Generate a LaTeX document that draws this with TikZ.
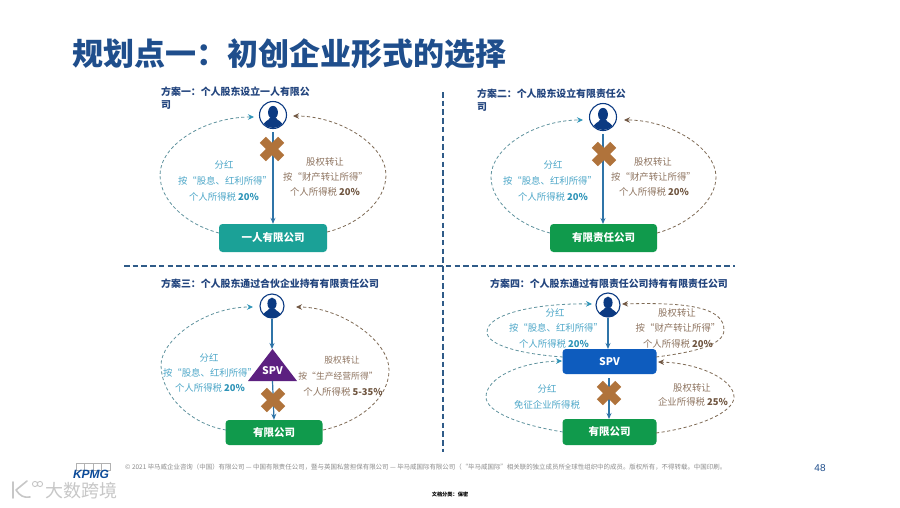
\documentclass[tikz,border=0pt]{standalone}
\usepackage{fontspec}
\setmainfont{Noto Sans CJK SC}
\newfontfamily\latinf{Liberation Sans}
\usetikzlibrary{arrows.meta,shapes.geometric}
\newcommand{\fcolon}{\symbol{"FF1A}}
\newcommand{\fcomma}{\symbol{"FF0C}}
\newcommand{\flp}{\symbol{"FF08}}
\newcommand{\frp}{\symbol{"FF09}}
\definecolor{titleblue}{HTML}{1F4E8C}
\definecolor{headblue}{HTML}{23457E}
\definecolor{navy}{HTML}{0B3A82}
\definecolor{stemblue}{HTML}{2F74A8}
\definecolor{leftc}{HTML}{4FA8C9}
\definecolor{leftb}{HTML}{2E94B8}
\definecolor{rightc}{HTML}{8F7561}
\definecolor{rightb}{HTML}{6F5540}
\definecolor{dashl}{HTML}{5F929E}
\definecolor{dashr}{HTML}{7F6B55}
\definecolor{crossc}{HTML}{B0733B}
\definecolor{tealbox}{HTML}{1BA197}
\definecolor{greenbox}{HTML}{109A4C}
\definecolor{bluebox}{HTML}{0E5CBE}
\definecolor{purpletri}{HTML}{5C2080}
\definecolor{divc}{HTML}{2F5B88}
\tikzset{
  x=1pt,y=-1pt,
  headtxt/.style={font=\bfseries\fontsize{9.9}{13}\selectfont,text=headblue,anchor=west,inner sep=0pt,align=left},
  ltxt/.style={font=\fontsize{9.4}{12}\selectfont,text=leftc,inner sep=0pt},
  rtxt/.style={font=\fontsize{9.4}{12}\selectfont,text=rightc,inner sep=0pt},
  rtxtsmall/.style={font=\fontsize{8.8}{12}\selectfont,text=rightc,inner sep=0pt},
  entity/.style={draw=none,rounded corners=3.5pt,minimum height=#1,inner sep=0pt,text=white,font=\bfseries\fontsize{10.5}{12}\selectfont},
  personc/.style={circle,draw=navy,line width=1.1pt,fill=white,inner sep=0pt,minimum size=#1},
  stem/.style={draw=stemblue,line width=1.2pt,-{Stealth[length=6pt,width=5pt]}},
  dashL/.style={draw=dashl,line width=.8pt,dash pattern=on 3.2pt off 2.4pt,-{Stealth[length=6pt,width=5.5pt,color=leftb]}},
  dashR/.style={draw=dashr,line width=.8pt,dash pattern=on 3.2pt off 2.4pt,-{Stealth[length=6pt,width=5.5pt,color=rightb]}},
  crossbar/.style={fill=crossc,draw=none,minimum width=26pt,minimum height=8.5pt,inner sep=0pt},
  divider/.style={draw=divc,line width=1.1pt,dash pattern=on 5.5pt off 3.2pt},
}
\newcommand{\bustat}[3]{% x,y,radius
  \begin{scope}
    \clip (#1,#2) circle[radius=#3];
    \fill[navy] (#1,#2-.2*#3) ellipse[x radius=.38*#3,y radius=.5*#3];
    \fill[navy] (#1-.8*#3,#2+#3) .. controls (#1-.8*#3,#2+.45*#3) and (#1-.3*#3,#2+.45*#3) .. (#1-.22*#3,#2+.2*#3)
      -- (#1+.22*#3,#2+.2*#3) .. controls (#1+.3*#3,#2+.45*#3) and (#1+.8*#3,#2+.45*#3) .. (#1+.8*#3,#2+#3) -- cycle;
  \end{scope}}
\newcommand{\crossat}[3]{% name,x,y
  \node[crossbar,rotate=45] (#1a) at (#2,#3) {};
  \node[crossbar,rotate=-45] (#1b) at (#2,#3) {};}
\begin{document}
\begin{tikzpicture}
\useasboundingbox (0,0) rectangle (900,507);
\fill[white] (0,0) rectangle (900,507);

\node[font=\bfseries\fontsize{31}{34}\selectfont,text=titleblue,anchor=west,inner sep=0pt] (title) at (72,54) {规划点一\fcolon 初创企业形式的选择};

% dividers
\coordinate (hl) at (124,266); \coordinate (hr) at (735,266);
\coordinate (vt) at (443,92); \coordinate (vb) at (443,452);
\draw[divider] (hl) -- (hr);
\draw[divider] (vt) -- (vb);

% ---------- panel 1
\node[headtxt,anchor=north west] (h1) at (161,86.5) {方案一\fcolon 个人股东设立一人有限公\\司};
\node[personc=27pt] (p1) at (273,115) {}; \bustat{273}{115}{13}
\node[entity=28pt,fill=tealbox,minimum width=108pt] (b1) at (273,238) {一人有限公司};
\draw[stem] (273,132) -- (b1.north);
\crossat{x1}{272}{149}
\coordinate (p1l) at (254,117); \coordinate (p1r) at (293,116);
\coordinate (b1l) at (219,233); \coordinate (b1r) at (327,232);
\draw[dashL] (b1l) .. controls (185,224) and (160,200) .. (160,175) .. controls (160,145) and (205,117) .. (p1l);
\draw[dashR] (b1r) .. controls (360,224) and (386,200) .. (386,175) .. controls (386,145) and (340,116) .. (p1r);
\node[ltxt] (l1a) at (224,165) {分红};
\node[ltxt] (l1b) at (225,181) {按“股息、红利所得”};
\node[ltxt] (l1c) at (224,197) {个人所得税 \textbf{\textcolor{leftb}{20\%}}};
\node[rtxt] (r1a) at (325,162) {股权转让};
\node[rtxt] (r1b) at (325.5,177) {按“财产转让所得”};
\node[rtxt] (r1c) at (325,192) {个人所得税 \textbf{\textcolor{rightb}{20\%}}};

% ---------- panel 2
\node[headtxt,anchor=north west] (h2) at (477,88.5) {方案二\fcolon 个人股东设立有限责任公\\司};
\node[personc=27pt] (p2) at (603,117) {}; \bustat{603}{117}{13}
\node[entity=28pt,fill=greenbox,minimum width=107pt] (b2) at (603.5,238) {有限责任公司};
\coordinate (s2) at (603,134); \coordinate (e2) at (603,224);
\draw[stem] (s2) -- (e2);
\crossat{x2}{604}{154}
\coordinate (p2l) at (583,120); \coordinate (p2r) at (624,120);
\coordinate (b2l) at (550,233); \coordinate (b2r) at (657,233);
\draw[dashL] (b2l) .. controls (515,224) and (491,200) .. (491,177) .. controls (491,148) and (535,120) .. (p2l);
\draw[dashR] (b2r) .. controls (690,224) and (716,200) .. (716,177) .. controls (716,148) and (670,120) .. (p2r);
\node[ltxt] (l2a) at (553,165) {分红};
\node[ltxt] (l2b) at (550,181) {按“股息、红利所得”};
\node[ltxt] (l2c) at (553,197) {个人所得税 \textbf{\textcolor{leftb}{20\%}}};
\node[rtxt] (r2a) at (653,162) {股权转让};
\node[rtxt] (r2b) at (653.5,177) {按“财产转让所得”};
\node[rtxt] (r2c) at (654,192) {个人所得税 \textbf{\textcolor{rightb}{20\%}}};

% ---------- panel 3
\node[headtxt] (h3) at (161,284) {方案三\fcolon 个人股东通过合伙企业持有有限责任公司};
\node[personc=24pt] (p3) at (272,306) {}; \bustat{272}{306}{12}
\coordinate (t3) at (272,349);
\draw[stem] (p3.south) -- (t3);
\fill[purpletri] (248,381) -- (272.5,349) -- (297,381) -- cycle;
\node[inner sep=0pt,text=white,font=\bfseries\fontsize{10.5}{12}\selectfont] (s3) at (272.5,371) {SPV};
\node[entity=25pt,fill=greenbox,minimum width=97pt] (b3) at (274,432.5) {有限公司};
\coordinate (t3b) at (272.5,381);
\draw[stem] (t3b) -- (b3.north);
\crossat{x3}{273}{400}
\coordinate (p3l) at (253,307); \coordinate (p3r) at (296,307);
\coordinate (b3l) at (226,430); \coordinate (b3r) at (323,430);
\draw[dashL] (b3l) .. controls (190,424) and (161,395) .. (161,365) .. controls (161,340) and (205,307) .. (p3l);
\draw[dashR] (b3r) .. controls (360,422) and (389,398) .. (389,370) .. controls (389,340) and (340,307) .. (p3r);
\node[ltxt] (l3a) at (209,358) {分红};
\node[ltxt] (l3b) at (210,373) {按“股息、红利所得”};
\node[ltxt] (l3c) at (210,388) {个人所得税 \textbf{\textcolor{leftb}{20\%}}};
\node[rtxtsmall] (r3a) at (342,360) {股权转让};
\node[rtxtsmall] (r3b) at (338,376) {按“生产经营所得”};
\node[rtxt] (r3c) at (343,392) {个人所得税 \textbf{\textcolor{rightb}{5-35\%}}};

% ---------- panel 4
\node[headtxt] (h4) at (490,284) {方案四\fcolon 个人股东通过有限责任公司持有有限责任公司};
\node[personc=24pt] (p4) at (608,305) {}; \bustat{608}{305}{12}
\node[entity=25pt,fill=bluebox,minimum width=94pt] (b4) at (609.5,361.5) {SPV};
\node[entity=26pt,fill=greenbox,minimum width=94pt] (c4) at (609.5,432) {有限公司};
\coordinate (b4top) at (608,349); \coordinate (x4s) at (609,378); \coordinate (c4top) at (609,419);
\draw[stem] (p4.south) -- (b4top);
\draw[stem] (x4s) -- (c4top);
\crossat{x4}{609}{393}
\coordinate (p4l) at (592,304); \coordinate (p4r) at (622,304);
\coordinate (b4lu) at (563,357); \coordinate (b4ru) at (656,357);
\coordinate (b4ll) at (562,361); \coordinate (b4rl) at (658,362);
\coordinate (c4l) at (563,432); \coordinate (c4r) at (656,433);
\draw[dashL] (b4lu) .. controls (520,354) and (487,345) .. (487,332) .. controls (487,313) and (540,303) .. (p4l);
\draw[dashR] (b4ru) .. controls (695,352) and (724,345) .. (724,330) .. controls (724,308) and (690,302) .. (p4r);
\draw[dashL] (c4l) .. controls (520,425) and (486,412) .. (486,397) .. controls (486,378) and (520,362) .. (b4ll);
\draw[dashR] (c4r) .. controls (700,427) and (734,412) .. (734,397) .. controls (734,380) and (700,363) .. (b4rl);
\node[ltxt] (l4a) at (555,313) {分红};
\node[ltxt] (l4b) at (556,328) {按“股息、红利所得”};
\node[ltxt] (l4c) at (554,344) {个人所得税 \textbf{\textcolor{leftb}{20\%}}};
\node[rtxt] (r4a) at (677,313) {股权转让};
\node[rtxt] (r4b) at (678,328) {按“财产转让所得”};
\node[rtxt] (r4c) at (678,344) {个人所得税 \textbf{\textcolor{rightb}{20\%}}};
\node[ltxt] (l4d) at (547,389) {分红};
\node[ltxt] (l4e) at (547,405) {免征企业所得税};
\node[rtxt] (r4d) at (692,388) {股权转让};
\node[rtxt] (r4e) at (693,402) {企业所得税 \textbf{\textcolor{rightb}{25\%}}};

% ---------- footer
\node[anchor=west,inner sep=0pt,text=black!45,font=\fontsize{6.45}{7}\selectfont] (foot) at (125,467) {© 2021 毕马威企业咨询\flp 中国\frp 有限公司 — 中国有限责任公司\fcomma 暨与英国私营担保有限公司 — 毕马威国际有限公司\flp “毕马威国际”相关联的独立成员所全球性组织中的成员。版权所有\fcomma 不得转载。中国印刷。};
\node[inner sep=0pt,text=titleblue,font=\latinf\fontsize{10}{12}\selectfont] (pg) at (820,468) {48};
\node[inner sep=0pt,text=black,font=\bfseries\fontsize{5.2}{7}\selectfont] (cls) at (450,494.5) {文档分类\fcolon 保密};

% KPMG logo
\foreach \bx in {76,84.5,93,101.5}
  \draw[black!30,line width=.5pt] (\bx,463.5) rectangle ++(8.5,6.5);
\node[inner sep=0pt,text=bluebox!80!black,font=\latinf\bfseries\itshape\fontsize{12}{12}\selectfont] (kpmg) at (91,474.5) {KPMG};

% watermark
\draw[black!22,line width=1.6pt,line cap=round,line join=round] (13,482) -- (13,498) (27,481) -- (16,490) .. controls (20,496) and (24,498) .. (30,497);
\draw[black!22,line width=.9pt] (35,484) circle[radius=2.6] (40,484) circle[radius=2.6];
\node[inner sep=0pt,text=black!22,font=\fontsize{18}{20}\selectfont,anchor=west] (wm) at (45,491) {大数跨境};
\end{tikzpicture}
\end{document}
